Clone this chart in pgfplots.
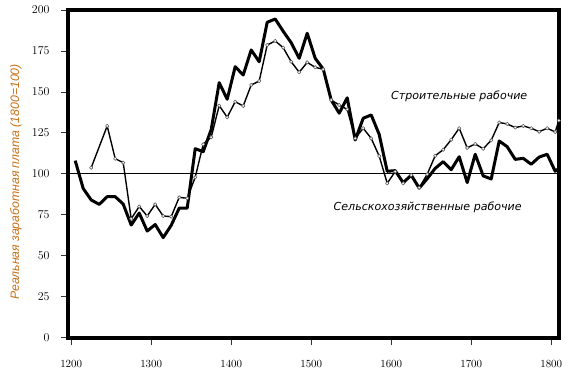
\documentclass[border=0pt]{standalone}
\usepackage{fontspec}
\usepackage{pgfplots}
\pgfplotsset{compat=1.18}
\newfontfamily\dejavu{DejaVu Sans}
\newfontfamily\libsans{Liberation Sans}
\definecolor{ylab}{RGB}{200,112,24}

\pgfplotstableread{
year val
1205 108
1215 91
1225 84
1235 81.3
1245 86
1255 86
1265 81.5
1275 68.7
1285 76
1295 65
1305 69
1315 61
1325 68.5
1335 79
1345 79
1355 115.3
1365 113.5
1375 127
1385 155.6
1395 145.5
1405 165.4
1415 160.3
1425 175.6
1435 168.4
1445 192.5
1455 194.5
1465 187
1475 180
1485 170.5
1495 185.8
1505 170.5
1515 164
1525 145
1535 137
1545 146.4
1555 120.6
1565 133.9
1575 135.9
1585 124
1595 101.5
1605 101.9
1615 94.5
1625 99.2
1635 91.2
1645 97
1655 103.3
1665 107.4
1675 102.5
1685 110.4
1695 94.6
1705 111.9
1715 98.7
1725 96.8
1735 120
1745 116.5
1755 108.8
1765 109.4
1775 105.8
1785 110.2
1795 111.9
1805 101.5
1809.5 103.3
}\agri

\pgfplotstableread{
year val
1225 103.7
1245 129.2
1255 109.2
1265 106.8
1275 72.5
1285 80
1295 74.2
1305 81.3
1315 74.2
1325 73.8
1335 85.6
1345 85
1355 97.8
1365 118
1375 122.3
1385 141.6
1395 134.5
1405 144
1415 141.4
1425 154.2
1435 156.6
1445 178.6
1455 181.1
1465 177
1475 168.4
1485 162
1495 168
1505 165
1515 163.8
1525 145
1535 142
1545 139.3
1555 121.6
1565 127.8
1575 121.6
1585 110.8
1595 94.2
1605 101.3
1615 94.2
1625 99.2
1635 91.5
1645 99.7
1655 111
1665 114.7
1675 120.8
1685 127.8
1695 115.8
1705 118.2
1715 115.3
1725 120.4
1735 131.3
1745 130.4
1755 128.2
1765 129.2
1775 127.8
1785 125.7
1795 127.8
1805 125.5
1809.5 132.5
}\build

\begin{document}
\begin{tikzpicture}[x=1bp,y=1bp]
\path[use as bounding box] (0,0) rectangle (570,375);
\begin{axis}[
  at={(68bp,37.5bp)}, anchor=south west,
  scale only axis, width=491.2bp, height=327.5bp,
  xmin=1196, xmax=1810, ymin=0, ymax=200,
  axis line style={line width=4bp},
  tick pos=left, tick align=outside,
  major tick length=7bp,
  tick style={black!80, line width=0.7bp},
  xtick={1200,1300,...,1800},
  ytick={0,25,...,200},
  xticklabel style={font=\dejavu\fontsize{11}{13}\selectfont, yshift=-12bp},
  yticklabel style={font=\fontsize{11.5}{13}\selectfont, xshift=-8bp},
  xticklabel={\pgfmathprintnumber[fixed,precision=0,1000 sep={}]{\tick}},
  ylabel={\libsans\itshape\fontsize{12.3}{14}\selectfont Реальная заработная плата (1800=100)},
  every axis y label/.style={at={(rel axis cs:0,0.475)}, xshift=-52bp, rotate=90, anchor=center, text=ylab},
  clip=false,
]
\addplot[black, line width=0.9bp, forget plot] coordinates {(1196,100) (1810,100)};
\addplot[black, line width=3bp, line join=round] table[x=year,y=val]{\agri};
\addplot[black, line width=1.4bp, line join=round, mark=*, mark size=1.7bp,
  mark options={fill=white, draw=black!65, line width=0.6bp}] table[x=year,y=val]{\build};
\node[font=\dejavu\itshape\fontsize{11.1}{13}\selectfont] at (axis cs:1685,147) {Строительные рабочие};
\node[font=\dejavu\itshape\fontsize{11.1}{13}\selectfont] at (axis cs:1645.6,79.7) {Сельскохозяйственные рабочие};
\end{axis}
\end{tikzpicture}
\end{document}
